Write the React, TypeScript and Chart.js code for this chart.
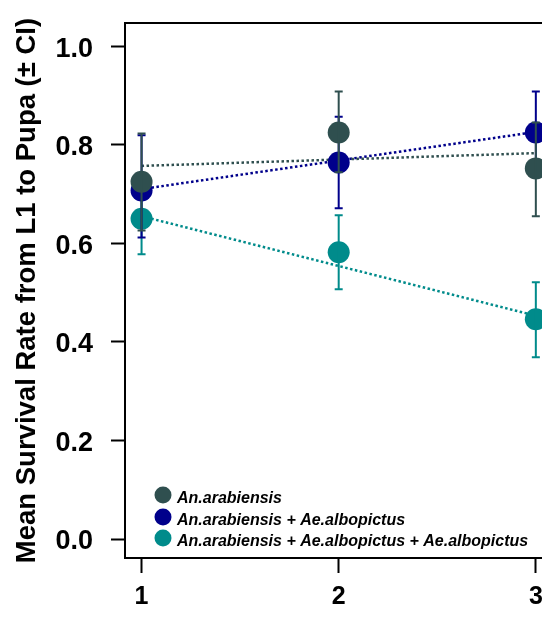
import React, { useEffect, useRef } from "react";
import { Chart, registerables } from "chart.js";

Chart.register(...registerables);

// ---------- data ----------
const categories = [1, 2, 3];
const xTickLabels = ["1", "2", "3"];
const yTickValues = [0, 0.2, 0.4, 0.6, 0.8, 1.0];
const yAxisTitle = "Mean Survival Rate from L1 to Pupa (\u00B1 CI)";

const seriesNames = [
  "An.arabiensis",
  "An.arabiensis + Ae.albopictus",
  "An.arabiensis + Ae.albopictus + Ae.albopictus",
];
const seriesColors = ["#2F4F4F", "#00008B", "#008B8B"];

const arabiensisMean = [0.725, 0.825, 0.752];
const arabiensisLower = [0.626, 0.744, 0.655];
const arabiensisUpper = [0.823, 0.908, 0.845];

const alboOneMean = [0.707, 0.764, 0.825];
const alboOneLower = [0.612, 0.671, 0.742];
const alboOneUpper = [0.819, 0.857, 0.908];

const alboTwoMean = [0.65, 0.582, 0.446];
const alboTwoLower = [0.578, 0.507, 0.369];
const alboTwoUpper = [0.722, 0.657, 0.521];

const trendX = [1, 3];
const arabiensisTrend = [0.757, 0.783];
const alboOneTrend = [0.71, 0.826];
const alboTwoTrend = [0.655, 0.453];

const FONT = "'Liberation Sans', Arial, sans-serif";

const errorBarPlugin = {
  id: "errorBars",
  afterDatasetDraw(chart: any, args: any) {
    const ds = chart.data.datasets[args.index];
    if (!ds.errLower) return;
    const { ctx } = chart;
    const x = chart.scales.x;
    const y = chart.scales.y;
    ctx.save();
    ctx.strokeStyle = ds.backgroundColor;
    ctx.lineWidth = 2;
    ds.data.forEach((p: any, i: number) => {
      const px = x.getPixelForValue(p.x);
      const yl = y.getPixelForValue(ds.errLower[i]);
      const yu = y.getPixelForValue(ds.errUpper[i]);
      ctx.beginPath();
      ctx.moveTo(px, yl);
      ctx.lineTo(px, yu);
      ctx.moveTo(px - 4, yl);
      ctx.lineTo(px + 4, yl);
      ctx.moveTo(px - 4, yu);
      ctx.lineTo(px + 4, yu);
      ctx.stroke();
    });
    ctx.restore();
  },
};

const legendPlugin = {
  id: "insideLegend",
  afterDraw(chart: any) {
    const { ctx, chartArea } = chart;
    const cx = chartArea.left + 38;
    const rowYs = [chartArea.bottom - 63, chartArea.bottom - 41, chartArea.bottom - 20];
    ctx.save();
    ctx.font = `italic bold 16px ${FONT}`;
    ctx.textAlign = "left";
    ctx.textBaseline = "alphabetic";
    seriesNames.forEach((name, i) => {
      ctx.fillStyle = seriesColors[i];
      ctx.beginPath();
      ctx.arc(cx, rowYs[i], 8.5, 0, Math.PI * 2);
      ctx.fill();
      ctx.fillStyle = "#000";
      ctx.fillText(name, cx + 14, rowYs[i] + 8);
    });
    ctx.restore();
  },
};

export default function App() {
  const ref = useRef<HTMLCanvasElement>(null);

  useEffect(() => {
    if (!ref.current) return;
    const means = [arabiensisMean, alboOneMean, alboTwoMean];
    const lowers = [arabiensisLower, alboOneLower, alboTwoLower];
    const uppers = [arabiensisUpper, alboOneUpper, alboTwoUpper];
    const trends = [arabiensisTrend, alboOneTrend, alboTwoTrend];

    const pointSets: any[] = seriesNames.map((name, s) => ({
      type: "scatter",
      label: name,
      data: categories.map((c, i) => ({ x: c, y: means[s][i] })),
      backgroundColor: seriesColors[s],
      borderColor: seriesColors[s],
      borderWidth: 0,
      pointRadius: 11,
      pointHoverRadius: 11,
      errLower: lowers[s],
      errUpper: uppers[s],
    }));
    const trendSets: any[] = seriesNames.map((name, s) => ({
      type: "scatter",
      label: name + " trend",
      data: trendX.map((c, i) => ({ x: c, y: trends[s][i] })),
      showLine: true,
      borderColor: seriesColors[s],
      backgroundColor: seriesColors[s],
      borderWidth: 2.5,
      borderDash: [2.5, 2.5],
      pointRadius: 0,
      fill: false,
    }));

    const tickFontY = { family: FONT, size: 27, weight: "bold" as const };
    const tickFontX = { family: FONT, size: 25, weight: "bold" as const };

    const chart = new Chart(ref.current, {
      type: "scatter",
      data: { datasets: [...pointSets, ...trendSets] },
      options: {
        animation: false,
        responsive: false,
        devicePixelRatio: 1,
        events: [],
        layout: { autoPadding: false, padding: { top: 23, left: 0, right: 0, bottom: 0 } },
        plugins: { legend: { display: false }, tooltip: { enabled: false } },
        scales: {
          x: {
            type: "linear",
            position: "bottom",
            min: 0.916,
            max: 3.082,
            afterBuildTicks: (s: any) => {
              s.ticks = categories.map((v) => ({ value: v }));
            },
            afterFit: (s: any) => {
              s.height = 59;
              s.paddingLeft = 0;
              s.paddingRight = 0;
              s.paddingTop = 0;
              s.paddingBottom = 0;
            },
            ticks: {
              callback: (v: any) => xTickLabels[categories.indexOf(Number(v))],
              font: tickFontX,
              color: "#000",
              padding: 9,
              autoSkip: false,
              maxRotation: 0,
            },
            grid: {
              display: true,
              drawOnChartArea: false,
              drawTicks: true,
              tickLength: 15,
              tickColor: "#000",
              tickWidth: 2,
              color: "#000",
            },
            border: { display: true, color: "#000", width: 2 },
          },
          x2: {
            type: "linear",
            position: "top",
            min: 0.916,
            max: 3.082,
            afterFit: (s: any) => {
              s.height = 0;
              s.paddingLeft = 0;
              s.paddingRight = 0;
              s.paddingTop = 0;
              s.paddingBottom = 0;
            },
            ticks: { display: false },
            grid: { display: false, drawTicks: false },
            border: { display: true, color: "#000", width: 2 },
          },
          y: {
            type: "linear",
            position: "left",
            min: -0.0385,
            max: 1.047,
            afterBuildTicks: (s: any) => {
              s.ticks = yTickValues.map((v) => ({ value: v }));
            },
            afterFit: (s: any) => {
              s.width = 125;
              s.paddingLeft = 0;
              s.paddingRight = 0;
              s.paddingTop = 0;
              s.paddingBottom = 0;
            },
            ticks: {
              callback: (v: any) => Number(v).toFixed(1),
              font: tickFontY,
              color: "#000",
              padding: 18,
              labelOffset: 3,
            },
            grid: {
              display: true,
              drawOnChartArea: false,
              drawTicks: true,
              tickLength: 14,
              tickColor: "#000",
              tickWidth: 2,
              color: "#000",
            },
            border: { display: true, color: "#000", width: 2 },
            title: {
              display: true,
              text: yAxisTitle,
              color: "#000",
              font: { family: FONT, size: 27.5, weight: "bold" },
              padding: { top: 11, bottom: 0 },
            },
          },
        },
      } as any,
      plugins: [errorBarPlugin, legendPlugin],
    });
    return () => chart.destroy();
  }, []);

  return (
    <div
      style={{
        position: "fixed",
        left: 0,
        top: 0,
        width: 542,
        height: 617,
        overflow: "hidden",
        background: "#fff",
      }}
    >
      <canvas
        ref={ref}
        width={552}
        height={617}
        style={{ display: "block", width: 552, height: 617 }}
      />
    </div>
  );
}
